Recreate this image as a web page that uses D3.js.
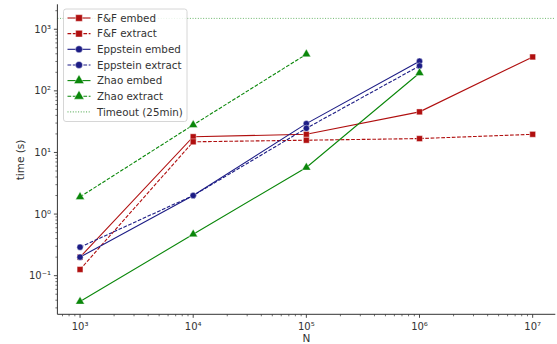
<!DOCTYPE html>
<html><head><meta charset="utf-8">
<script src="https://cdn.jsdelivr.net/npm/d3@7"></script>
<style>body{margin:0;background:#fff}svg{display:block}text{font-family:"DejaVu Sans",sans-serif;fill:#333}</style>
</head><body><svg id="c" width="557" height="344"></svg>
<script>
const N = [1e3, 1e4, 1e5, 1e6, 1e7];
const ffEmbed = [0.2, 18, 19.7, 45.6, 355];
const ffExtract = [0.126, 14.9, 15.8, 16.8, 19.7];
const eppEmbed = [0.2, 2, 29.4, 303];
const eppExtract = [0.29, 2, 24.7, 254];
const zhaoEmbed = [0.038, 0.47, 5.7, 195];
const zhaoExtract = [1.9, 28, 393];
const timeout = 1500;
const seriesNames = ["F&F embed","F&F extract","Eppstein embed","Eppstein extract","Zhao embed","Zhao extract","Timeout (25min)"];
const colors = {red:"#b00f0f", blue:"#1c1c85", green:"#0a870a"};

const series = [
  {name:seriesNames[0], vals:ffEmbed, color:colors.red, dash:null, marker:"square"},
  {name:seriesNames[1], vals:ffExtract, color:colors.red, dash:"3.7,1.6", marker:"square"},
  {name:seriesNames[2], vals:eppEmbed, color:colors.blue, dash:null, marker:"circle"},
  {name:seriesNames[3], vals:eppExtract, color:colors.blue, dash:"3.7,1.6", marker:"circle"},
  {name:seriesNames[4], vals:zhaoEmbed, color:colors.green, dash:null, marker:"triangle"},
  {name:seriesNames[5], vals:zhaoExtract, color:colors.green, dash:"3.7,1.6", marker:"triangle"}
];

const svg = d3.select("#c");
const x = d3.scaleLog().domain([Math.pow(10,2.8), Math.pow(10,7.2)]).range([57.4, 555.3]);
const y = d3.scaleLog().domain([Math.pow(10,-1.627), Math.pow(10,3.405)]).range([314.3, 4.3]);

const sup = {"-":"\u207B","0":"\u2070","1":"\u00B9","2":"\u00B2","3":"\u00B3","4":"\u2074","5":"\u2075","6":"\u2076","7":"\u2077"};
function fmt(d){const e=Math.round(Math.log10(d));return "10"+String(e).split("").map(c=>sup[c]).join("");}

function allTicks(sc){
  const [a,b]=sc.domain();const out=[];
  for(let e=Math.floor(Math.log10(a));e<=Math.ceil(Math.log10(b));e++){
    for(let m=1;m<10;m++){const v=m*Math.pow(10,e);if(v>=a&&v<=b)out.push({v,major:m===1});}
  }
  return out;
}

// timeout line
svg.append("line").attr("x1",x.range()[0]).attr("x2",x.range()[1]).attr("y1",y(timeout)).attr("y2",y(timeout))
  .attr("stroke",colors.green).attr("stroke-opacity",0.6).attr("stroke-width",1).attr("stroke-dasharray","1,1.65");

// series lines
const line = d3.line().x((d,i)=>x(N[i])).y(d=>y(d));
const sym = {square:d3.symbolSquare, circle:d3.symbolCircle, triangle:d3.symbolTriangle};
const symSize = {square:34, circle:30, triangle:34};
series.forEach(s=>{
  svg.append("path").datum(s.vals).attr("d",line).attr("fill","none").attr("stroke",s.color)
    .attr("stroke-width",1.1).attr("stroke-dasharray",s.dash);
  svg.append("g").selectAll("path").data(s.vals).join("path")
    .attr("transform",(d,i)=>`translate(${x(N[i])},${y(d)})`)
    .attr("d",d3.symbol().type(sym[s.marker]).size(symSize[s.marker]))
    .attr("fill",s.color).attr("stroke","#fff").attr("stroke-opacity",0.5).attr("stroke-width",0.8);
});

// axes
const axCol="#333";
const gx = svg.append("g");
gx.append("line").attr("x1",x.range()[0]).attr("x2",x.range()[1]).attr("y1",314.3).attr("y2",314.3).attr("stroke",axCol).attr("stroke-width",1);
allTicks(x).forEach(t=>{
  gx.append("line").attr("x1",x(t.v)).attr("x2",x(t.v)).attr("y1",314.3).attr("y2",314.3+(t.major?3.5:2)).attr("stroke",axCol).attr("stroke-width",t.major?0.9:0.7);
  if(t.major) gx.append("text").attr("x",x(t.v)).attr("y",330).attr("text-anchor","middle").attr("font-size",10).text(fmt(t.v));
});
gx.append("text").attr("x",306.5).attr("y",342).attr("text-anchor","middle").attr("font-size",10.5).text("N");

const gy = svg.append("g");
gy.append("line").attr("x1",57.4).attr("x2",57.4).attr("y1",y.range()[1]).attr("y2",y.range()[0]).attr("stroke",axCol).attr("stroke-width",1);
allTicks(y).forEach(t=>{
  gy.append("line").attr("x1",57.4).attr("x2",57.4-(t.major?3.5:2)).attr("y1",y(t.v)).attr("y2",y(t.v)).attr("stroke",axCol).attr("stroke-width",t.major?0.9:0.7);
  if(t.major) gy.append("text").attr("x",51).attr("y",y(t.v)+3.5).attr("text-anchor","end").attr("font-size",10).text(fmt(t.v));
});
gy.append("text").attr("transform","translate(24,160) rotate(-90)").attr("text-anchor","middle").attr("font-size",10.5).text("time (s)");

// legend
const lg = svg.append("g");
lg.append("rect").attr("x",63.5).attr("y",9).attr("width",123.5).attr("height",112.5).attr("rx",2.5)
  .attr("fill","#fff").attr("fill-opacity",0.85).attr("stroke","#ccc").attr("stroke-width",0.8);
const legItems = series.concat([{name:seriesNames[6], color:colors.green, dash:"1,1.65", marker:null, op:0.6}]);
legItems.forEach((s,i)=>{
  const yy = 18 + i*15.65;
  lg.append("line").attr("x1",67.5).attr("x2",90.5).attr("y1",yy).attr("y2",yy).attr("stroke",s.color)
    .attr("stroke-width",1.1).attr("stroke-dasharray",s.dash).attr("stroke-opacity",s.op||1);
  if(s.marker) lg.append("path").attr("transform",`translate(79,${yy})`)
    .attr("d",d3.symbol().type(sym[s.marker]).size(symSize[s.marker]*1.3)).attr("fill",s.color)
    .attr("stroke","#fff").attr("stroke-opacity",0.5).attr("stroke-width",0.8);
  lg.append("text").attr("x",97).attr("y",yy+3.6).attr("font-size",10.3).text(s.name);
});
</script></body></html>
